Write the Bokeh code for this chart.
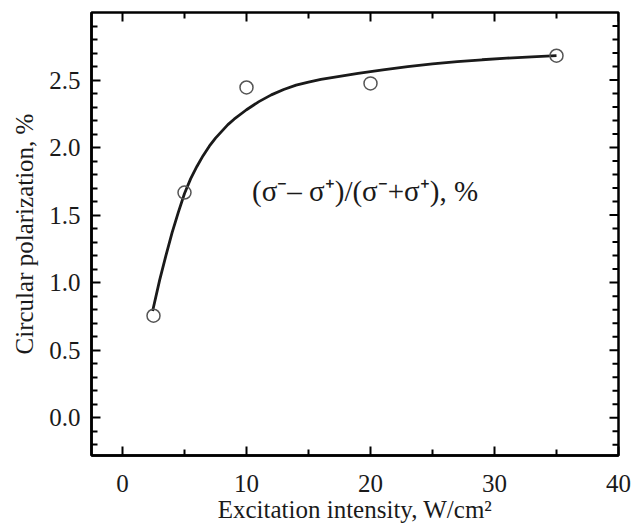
import math
from bokeh.plotting import figure
from bokeh.models import FixedTicker, Range1d, Label
from bokeh.embed import file_html
from bokeh.resources import INLINE

# measured data points
intensity = [2.5, 5, 10, 20, 35]
polarization = [0.755, 1.667, 2.445, 2.475, 2.68]

# fitted curve
curve_x = [2.43, 3.0, 3.5, 4.0, 4.5, 5.0, 5.5, 6.0, 6.5, 7.0, 7.5, 8.0, 8.5, 9.0, 10.0, 11.0, 12.0,
           13.0, 14.0, 15.0, 16.0, 17.0, 19.0, 21.0, 23.0, 25.0, 27.0, 29.0, 31.0, 33.0, 35.0]
curve_y = [0.79, 1.02, 1.20, 1.37, 1.52, 1.66, 1.77, 1.86, 1.94, 2.01, 2.07, 2.12, 2.17, 2.21, 2.28, 2.34, 2.39,
           2.43, 2.462, 2.485, 2.504, 2.52, 2.55, 2.576, 2.60, 2.619, 2.636, 2.65, 2.662, 2.672, 2.68]

x_major = [0, 10, 20, 30, 40]
x_minor = [5, 15, 25, 35]
y_major = [0.0, 0.5, 1.0, 1.5, 2.0, 2.5]
y_minor = [-0.2, -0.1, 0.1, 0.2, 0.3, 0.4, 0.6, 0.7, 0.8, 0.9, 1.1, 1.2, 1.3, 1.4,
           1.6, 1.7, 1.8, 1.9, 2.1, 2.2, 2.3, 2.4, 2.6, 2.7, 2.8, 2.9]
y_labels = ["0.0", "0.5", "1.0", "1.5", "2.0", "2.5"]
x_labels = ["0", "10", "20", "30", "40"]

x_start, x_end = -2.5, 40.0
y_start, y_end = -0.28, 3.0

FONT = "Liberation Serif"

p = figure(width=636, height=527,
           min_border_left=91, min_border_right=18, min_border_top=12, min_border_bottom=72,
           x_range=Range1d(x_start, x_end), y_range=Range1d(y_start, y_end),
           output_backend="svg", toolbar_location=None,
           x_axis_label="Excitation intensity, W/cm\u00b2",
           y_axis_label="Circular polarization, %")
p.grid.visible = False
p.outline_line_color = "black"
p.outline_line_width = 2.5
p.background_fill_color = "white"
p.border_fill_color = "white"

p.xaxis.ticker = FixedTicker(ticks=x_major, minor_ticks=x_minor)
p.yaxis.ticker = FixedTicker(ticks=y_major, minor_ticks=y_minor)
p.xaxis.major_label_overrides = {v: s for v, s in zip(x_major, x_labels)}
p.yaxis.major_label_overrides = {v: s for v, s in zip(y_major, y_labels)}

for ax in (p.xaxis[0], p.yaxis[0]):
    ax.axis_line_color = "black"
    ax.axis_line_width = 2.5
    ax.major_tick_in = 9
    ax.major_tick_out = 0
    ax.minor_tick_in = 6
    ax.minor_tick_out = 0
    ax.major_tick_line_width = 2
    ax.minor_tick_line_width = 2
    ax.major_tick_line_color = "black"
    ax.minor_tick_line_color = "black"
    ax.major_label_text_font = FONT
    ax.major_label_text_font_size = "25px"
    ax.major_label_text_color = "#1a1a1a"
    ax.axis_label_text_font = FONT
    ax.axis_label_text_font_size = "25px"
    ax.axis_label_text_font_style = "normal"
    ax.axis_label_text_color = "#1a1a1a"

p.xaxis.major_label_standoff = 19
p.xaxis.axis_label_standoff = 1
p.yaxis.major_label_standoff = 11
p.yaxis.axis_label_standoff = 8

# mirrored inner ticks on top and right edges
p.scatter(x_major, [y_end] * len(x_major), marker="dash", angle=math.pi / 2, size=18,
          line_color="black", line_width=2)
p.scatter(x_minor, [y_end] * len(x_minor), marker="dash", angle=math.pi / 2, size=12,
          line_color="black", line_width=2)
p.scatter([x_end] * len(y_major), y_major, marker="dash", size=18,
          line_color="black", line_width=2)
p.scatter([x_end] * len(y_minor), y_minor, marker="dash", size=12,
          line_color="black", line_width=2)

p.line(curve_x, curve_y, line_color="#1a1a1a", line_width=2.8)
p.scatter(intensity, polarization, marker="circle", size=13, fill_color="white",
          fill_alpha=0.0, line_color="#555555", line_width=1.5)

p.add_layout(Label(x=10.45, y=1.68, text="(\u03c3\u207b\u2013 \u03c3\u207a)/(\u03c3\u207b+\u03c3\u207a), %",
                   text_font=FONT, text_font_size="29px", text_color="#1a1a1a",
                   text_baseline="middle", text_align="left"))

open("out.html", "w").write(file_html(p, INLINE))
